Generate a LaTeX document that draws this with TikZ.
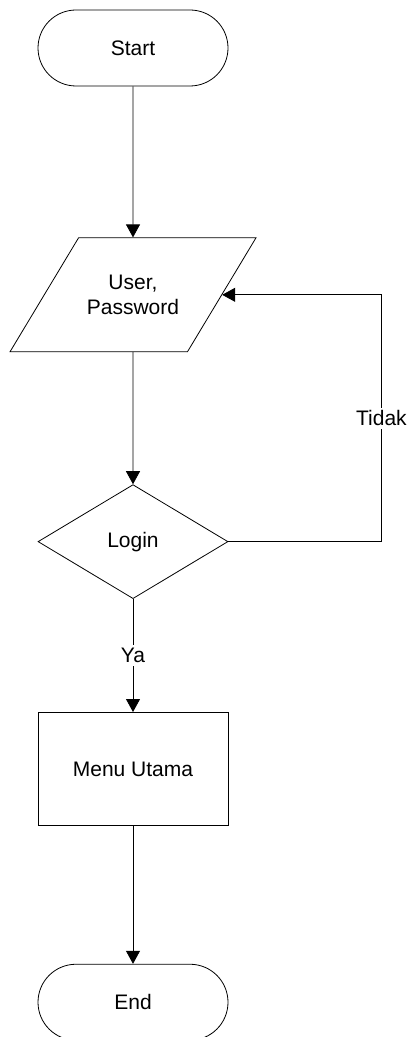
\documentclass[tikz,border=0pt]{standalone}
\usepackage{fontspec}
\setmainfont{Liberation Sans}
\usetikzlibrary{shapes.geometric,positioning,arrows.meta}

\begin{document}
\begin{tikzpicture}[->, >={Triangle[length=6.5pt,width=7pt]}, font=\fontsize{10.5}{12.5}\selectfont,
  terminal/.style={draw, rectangle, rounded corners=19pt, minimum width=95pt, minimum height=38pt},
  io/.style={draw, trapezium, trapezium left angle=37.7, trapezium right angle=142.3, trapezium stretches body=true, minimum width=123pt, minimum height=57pt, align=center},
  decision/.style={draw, diamond, minimum width=95pt, minimum height=57pt, inner sep=0pt},
  process/.style={draw, rectangle, minimum width=95pt, minimum height=56.5pt},
  lbl/.style={fill=white, inner sep=1.5pt}]
  \useasboundingbox (-66.5pt,24pt) rectangle (139.5pt,-494.5pt);
  \node (start) [terminal] {Start};
  \node (input) [io, below=75.5pt of start] {User,\\Password};
  \node (login) [decision, below=66pt of input] {Login};
  \node (menu) [process, below=56.5pt of login] {Menu Utama};
  \node (stop) [terminal, below=69pt of menu] {End};
  \coordinate [right=76.5pt of login.east] (turn);
  \draw (start) edge (input)
        (input) edge (login)
        (login) edge node[lbl]{Ya} (menu)
        (menu) edge (stop);
  \draw (login.east) -- (turn) |- node[lbl, pos=0.25]{Tidak} (input.right side);
\end{tikzpicture}
\end{document}
